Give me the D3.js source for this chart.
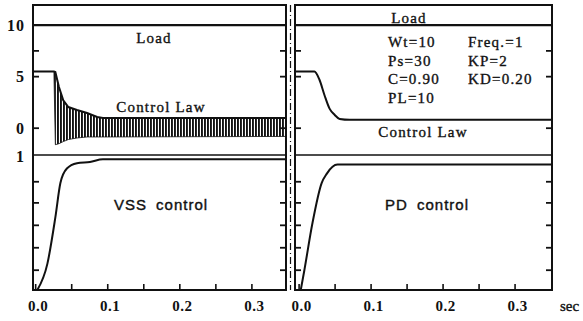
<!DOCTYPE html>
<html>
<head>
<meta charset="utf-8">
<script src="https://cdn.jsdelivr.net/npm/d3@7"></script>
<style>
  body { margin: 0; background: #fff; }
  svg { display: block; }
</style>
</head>
<body>
<svg id="chart" width="583" height="321"></svg>
<script>
// Load level (top line, both panels)
const loadLevel = 10

// VSS control law: upper / lower envelope of the chattering signal
const vssLawT  = [-0.003, 0.026, 0.028, 0.033, 0.039, 0.046, 0.058, 0.072, 0.086, 0.094, 0.348]
const vssLawHi = [5.5, 5.5, 5.45, 4.0, 2.7, 2.05, 1.77, 1.47, 1.09, 0.99, 0.99]
const vssLawLo = [5.5, 5.5, -1.6, -1.5, -1.3, -1.1, -0.95, -0.85, -0.85, -0.85, -0.8]

// VSS response (lower plot)
const vssT = [0.003, 0.017, 0.028, 0.035, 0.044, 0.058, 0.076, 0.094, 0.348]
const vssY = [0, 0.2, 0.55, 0.81, 0.92, 0.96, 0.97, 0.99, 0.99]

// PD control law and response
const pdLawT = [-0.005, 0.022, 0.029, 0.036, 0.043, 0.050, 0.057, 0.071, 0.352]
const pdLawY = [5.5, 5.5, 4.7, 3.2, 1.9, 1.3, 0.9, 0.82, 0.82]
const pdT = [0.003, 0.008, 0.019, 0.032, 0.039, 0.054, 0.352]
const pdY = [0, 0.15, 0.5, 0.81, 0.88, 0.95, 0.95]

// ticks and labels
const xTicks = [0, 0.05, 0.1, 0.15, 0.2, 0.25, 0.3]
const xLabels = [0, 0.1, 0.2, 0.3]
const upperTicks = [7.5, 5, 0]
const upperLabels = [10, 5, 0]
const lowerTicks = [0.82, 0.66, 0.49, 0.32, 0.15]
const lowerLabels = [1]
const params = [["Wt=10", "Freq.=1"], ["Ps=30", "KP=2"], ["C=0.90", "KD=0.20"], ["PL=10", ""]]

const ink = "#111"
const yTop = 5, yMid = 155, yBottom = 290

const svg = d3.select("#chart")

// hatch pattern for the chattering band
let defs = svg.append("defs")
defs.append("pattern")
    .attr("id", "hatch")
    .attr("width", 3).attr("height", 4)
    .attr("patternUnits", "userSpaceOnUse")
  .append("rect")
    .attr("width", 1.9).attr("height", 4)
    .attr("fill", ink)

let yUp = d3.scaleLinear().domain([-2.6, 11.95]).range([yMid, yTop])
let yLo = d3.scaleLinear().domain([0, 1]).range([yBottom, 158])

const panels = [
  {x0: 33, x1: 286, dom: [-0.003, 0.348], name: "VSS control", nameX: 161, leftLabels: true},
  {x0: 295, x1: 552, dom: [-0.005, 0.352], name: "PD control", nameX: 427, leftLabels: false}
]

panels.forEach((p, i) => {
  let x = d3.scaleLinear().domain(p.dom).range([p.x0, p.x1])
  p.x = x
  let g = svg.append("g")

  // frame
  g.append("rect")
      .attr("x", p.x0).attr("y", yTop)
      .attr("width", p.x1 - p.x0).attr("height", yBottom - yTop)
      .attr("fill", "none").attr("stroke", ink).attr("stroke-width", 2)
  g.append("line")
      .attr("x1", p.x0).attr("x2", p.x1)
      .attr("y1", yMid).attr("y2", yMid)
      .attr("stroke", ink).attr("stroke-width", 1.6)

  // load line
  g.append("line")
      .attr("x1", p.x0).attr("x2", p.x1)
      .attr("y1", yUp(loadLevel)).attr("y2", yUp(loadLevel))
      .attr("stroke", ink).attr("stroke-width", 2.2)

  // inward ticks, both sides
  ;[p.x0, p.x1].forEach((sx, k) => {
    let dir = k === 0 ? 1 : -1
    g.selectAll(null).data(upperTicks).enter().append("line")
        .attr("x1", sx).attr("x2", sx + dir * 6)
        .attr("y1", d => yUp(d)).attr("y2", d => yUp(d))
        .attr("stroke", ink).attr("stroke-width", 1.8)
    g.selectAll(null).data(lowerTicks).enter().append("line")
        .attr("x1", sx).attr("x2", sx + dir * 6)
        .attr("y1", d => yLo(d)).attr("y2", d => yLo(d))
        .attr("stroke", ink).attr("stroke-width", 1.8)
  })

  // x axis
  g.append("g")
      .attr("transform", `translate(0,${yBottom})`)
      .call(d3.axisTop(x).tickValues(xTicks).tickSize(6).tickFormat(""))
      .call(a => a.select(".domain").remove())
      .call(a => a.selectAll("line").attr("stroke", ink).attr("stroke-width", 1.6))
  g.selectAll(null).data(xLabels).enter().append("text")
      .attr("x", d => x(d) + 3).attr("y", 311)
      .attr("text-anchor", "middle")
      .attr("font-family", "Liberation Serif").attr("font-weight", "bold")
      .attr("font-size", 15).attr("letter-spacing", 0.5).attr("fill", ink)
      .text(d3.format(".1f"))

  if (p.leftLabels) {
    g.selectAll(null).data(upperLabels).enter().append("text")
        .attr("x", 25).attr("y", d => yUp(d) + 5.5)
        .attr("text-anchor", "end")
        .attr("font-family", "Liberation Serif").attr("font-weight", "bold")
        .attr("font-size", 16).attr("letter-spacing", 1).attr("fill", ink)
        .text(d => d)
    g.selectAll(null).data(lowerLabels).enter().append("text")
        .attr("x", 24).attr("y", d => yLo(d) + 4)
        .attr("text-anchor", "end")
        .attr("font-family", "Liberation Serif").attr("font-weight", "bold")
        .attr("font-size", 16).attr("fill", ink)
        .text(d => d)
  }

  // panel title
  g.append("text")
      .attr("x", p.nameX).attr("y", 210)
      .attr("text-anchor", "middle")
      .attr("font-family", "Liberation Sans").attr("font-size", 15)
      .attr("letter-spacing", 1).attr("word-spacing", 4)
      .attr("fill", ink).attr("stroke", ink).attr("stroke-width", 0.4)
      .text(p.name)
})

// --- VSS panel curves
let xl = panels[0].x
let band = vssLawT.map((t, i) => ({t, hi: vssLawHi[i], lo: vssLawLo[i]}))
svg.append("path")
    .datum(band)
    .attr("fill", "url(#hatch)")
    .attr("d", d3.area().x(d => xl(d.t)).y0(d => yUp(d.lo)).y1(d => yUp(d.hi)))
svg.append("path")
    .datum(band)
    .attr("fill", "none").attr("stroke", ink).attr("stroke-width", 2)
    .attr("d", d3.line().x(d => xl(d.t)).y(d => yUp(d.hi)))
svg.append("path")
    .datum(band)
    .attr("fill", "none").attr("stroke", ink).attr("stroke-width", 0.8)
    .attr("d", d3.line().x(d => xl(d.t)).y(d => yUp(d.lo)))
svg.append("path")
    .datum(d3.zip(vssT, vssY))
    .attr("fill", "none").attr("stroke", ink).attr("stroke-width", 2)
    .attr("d", d3.line().x(d => xl(d[0])).y(d => yLo(d[1])).curve(d3.curveMonotoneX))

// --- PD panel curves
let xr = panels[1].x
svg.append("path")
    .datum(d3.zip(pdLawT, pdLawY))
    .attr("fill", "none").attr("stroke", ink).attr("stroke-width", 2)
    .attr("d", d3.line().x(d => xr(d[0])).y(d => yUp(d[1])).curve(d3.curveMonotoneX))
svg.append("path")
    .datum(d3.zip(pdT, pdY))
    .attr("fill", "none").attr("stroke", ink).attr("stroke-width", 2)
    .attr("d", d3.line().x(d => xr(d[0])).y(d => yLo(d[1])).curve(d3.curveMonotoneX))

// dash-dot separator between panels
svg.append("line")
    .attr("x1", 290.5).attr("x2", 290.5).attr("y1", yTop).attr("y2", yBottom)
    .attr("stroke", ink).attr("stroke-width", 1.2)
    .attr("stroke-dasharray", "7,3,1,3")

// text labels
function label(txt, x, y, anchor, spacing) {
  svg.append("text")
      .attr("x", x).attr("y", y)
      .attr("text-anchor", anchor || "start")
      .attr("font-family", "Liberation Serif").attr("font-size", 15)
      .attr("letter-spacing", spacing === undefined ? 1.2 : spacing)
      .attr("fill", ink).attr("stroke", ink).attr("stroke-width", 0.35)
      .text(txt)
}
label("Load", 154, 43, "middle")
label("Control Law", 161, 112, "middle")
label("Load", 409, 23, "middle")
label("Control Law", 423, 137, "middle")
params.forEach((row, i) => {
  label(row[0], 388, 47 + i * 18.7)
  label(row[1], 468, 47 + i * 18.7)
})
label("sec", 560, 311, "start", 0)
</script>
</body>
</html>
